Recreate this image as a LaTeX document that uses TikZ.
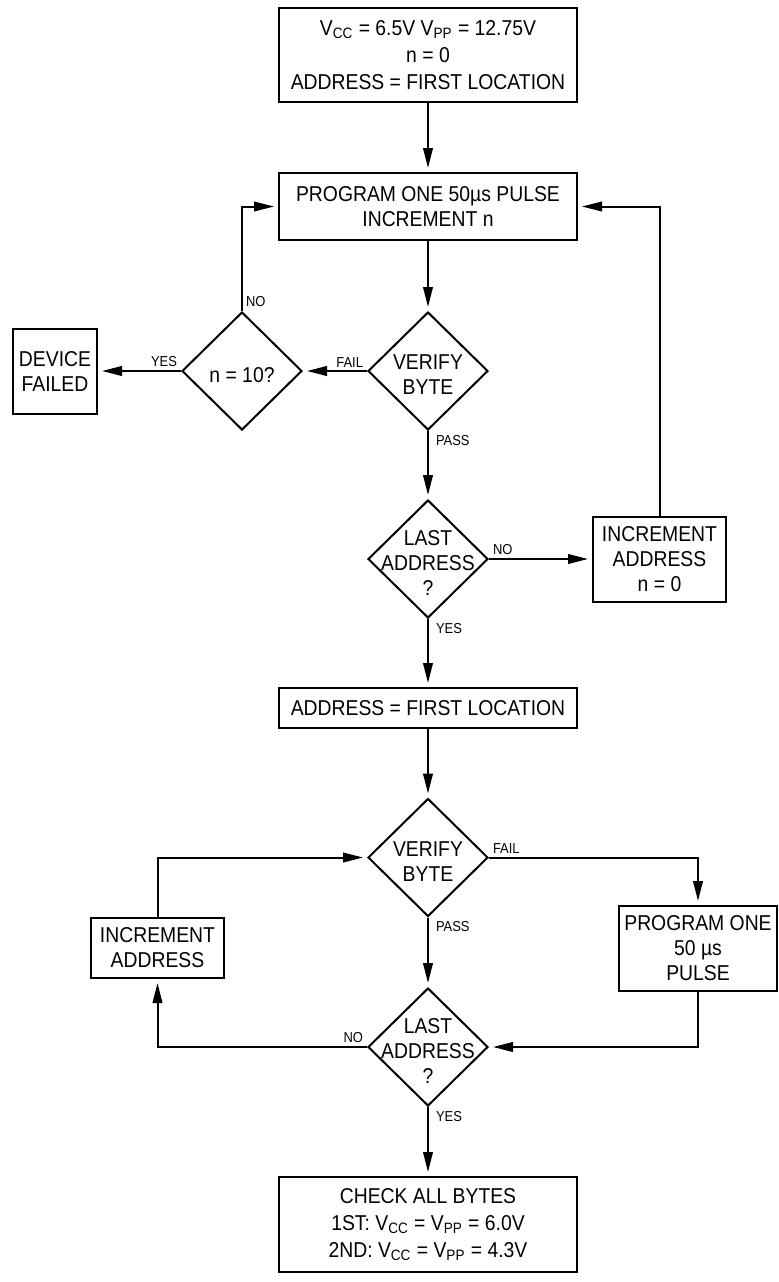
\documentclass[tikz,border=0pt]{standalone}
\usepackage{fontspec}
\setmainfont{Liberation Sans}[FakeStretch=0.9]
\usepackage{tikz}
\usetikzlibrary{shapes.geometric, arrows.meta}
\tikzstyle{process} = [rectangle, minimum width=149pt, inner sep=1pt, align=center, draw=black, line width=1pt, font=\fontsize{10.75}{12.5}\selectfont]
\tikzstyle{decision} = [diamond, minimum width=60pt, minimum height=59pt, inner sep=0pt, draw=black, line width=1pt]
\tikzstyle{dtext} = [align=center, yshift=-2pt, font=\fontsize{10.75}{12.5}\selectfont]
\tikzstyle{tag} = [inner sep=1.5pt, font=\fontsize{7.2}{8}\selectfont]
\tikzstyle{arrow} = [line width=1pt,-{Triangle[length=10pt,width=4.8pt]},shorten >=2pt]

\begin{document}
\begin{tikzpicture}[node distance=2cm]
  \useasboundingbox (0,0) rectangle (389.5pt,-641pt);
  \node (init)   [process, minimum height=47pt, font=\fontsize{10.75}{13.5}\selectfont] at (214pt,-27.5pt) {V\textsubscript{CC} = 6.5V V\textsubscript{PP} = 12.75V\\n = 0\\ADDRESS = FIRST LOCATION};
  \node (prog)   [process, below of=init, node distance=75.75pt, minimum height=33.5pt] {PROGRAM ONE 50µs PULSE\\INCREMENT n};
  \node (verA)   [decision, below of=prog, node distance=82.25pt, label={[dtext]center:VERIFY\\BYTE}] {};
  \node (cnt)    [decision, left of=verA, node distance=93pt, label={[dtext]center:n = 10?}] {};
  \node (failed) [process, left of=cnt, node distance=93.5pt, minimum width=42pt, minimum height=42.5pt] {DEVICE\\FAILED};
  \node (lastA)  [decision, below of=verA, node distance=94pt, label={[dtext]center:LAST\\ADDRESS\\?}] {};
  \node (incA)   [process, right of=lastA, node distance=115.75pt, minimum width=66.5pt, minimum height=42.5pt] {INCREMENT\\ADDRESS\\n = 0};
  \node (first)  [process, below of=lastA, node distance=74.5pt, minimum height=20pt] {ADDRESS = FIRST LOCATION};
  \node (verB)   [decision, below of=first, node distance=74.75pt, label={[dtext]center:VERIFY\\BYTE}] {};
  \node (incB)   [process, left of=verB, node distance=135.25pt, yshift=-45.25pt, minimum width=66.5pt, minimum height=30pt] {INCREMENT\\ADDRESS};
  \node (progB)  [process, right of=verB, node distance=135pt, yshift=-45.5pt, minimum width=79pt, minimum height=42.5pt] {PROGRAM ONE\\50 µs\\PULSE};
  \node (lastB)  [decision, below of=verB, node distance=94.75pt, label={[dtext]center:LAST\\ADDRESS\\?}] {};
  \node (check)  [process, below of=lastB, node distance=88.75pt, minimum height=47.5pt, font=\fontsize{10.75}{13.5}\selectfont] {CHECK ALL BYTES\\1ST: V\textsubscript{CC} = V\textsubscript{PP} = 6.0V\\2ND: V\textsubscript{CC} = V\textsubscript{PP} = 4.3V};

  \draw [arrow] (init) -- (prog);
  \draw [arrow] (prog) -- (verA);
  \draw [arrow] (verA.west) -- node[tag, pos=0, above left] {FAIL} (cnt.east);
  \draw [arrow] (cnt.west) -- node[tag, pos=0, above left] {YES} (failed.east);
  \draw [arrow] (cnt.north) |- node[tag, pos=0, above right] {NO} (prog.west);
  \draw [arrow] (verA.south) -- node[tag, pos=0, below right, xshift=2pt] {PASS} (lastA.north);
  \draw [arrow] (lastA.east) -- node[tag, pos=0, above right] {NO} (incA.west);
  \draw [arrow] (incA.north) |- (prog.east);
  \draw [arrow] (lastA.south) -- node[tag, pos=0, below right, xshift=2pt] {YES} (first.north);
  \draw [arrow] (first) -- (verB);
  \draw [arrow] (verB.east) -| node[tag, pos=0, above right] {FAIL} (progB.north);
  \draw [arrow] (verB.south) -- node[tag, pos=0, below right, xshift=2pt] {PASS} (lastB.north);
  \draw [arrow] (progB.south) |- (lastB.east);
  \draw [arrow] (lastB.west) -| node[tag, pos=0, above left] {NO} (incB.south);
  \draw [arrow] (incB.north) |- (verB.west);
  \draw [arrow] (lastB.south) -- node[tag, pos=0, below right, xshift=2pt] {YES} (check.north);
\end{tikzpicture}
\end{document}
